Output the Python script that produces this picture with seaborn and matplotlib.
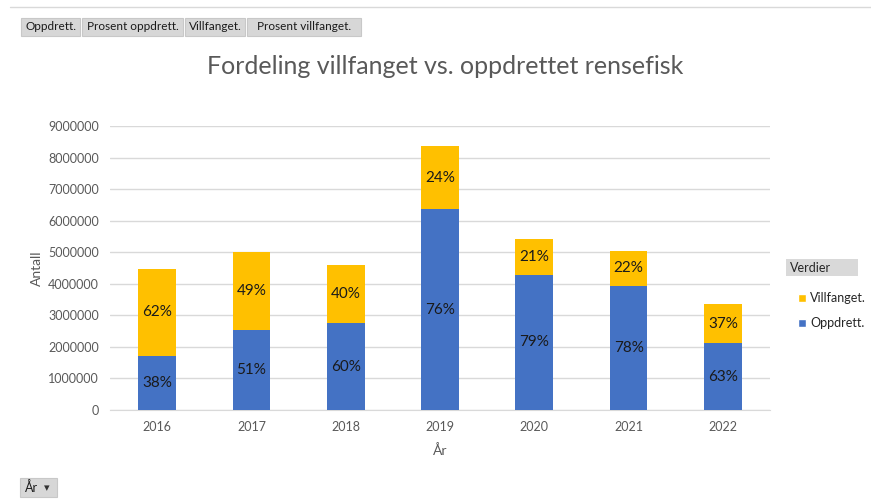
import matplotlib
matplotlib.use("Agg")
import matplotlib.pyplot as plt
from matplotlib.patches import Patch, Rectangle
from matplotlib.lines import Line2D
import seaborn as sns
import pandas as pd

# --- DATA ---
AAR = ['2016', '2017', '2018', '2019', '2020', '2021', '2022']
OPPDRETT = [1720000, 2540000, 2750000, 6360000, 4280000, 3940000, 2110000]
VILLFANGET = [2760000, 2480000, 1840000, 2000000, 1140000, 1110000, 1260000]
PROSENT_OPPDRETT = ['38%', '51%', '60%', '76%', '79%', '78%', '63%']
PROSENT_VILLFANGET = ['62%', '49%', '40%', '24%', '21%', '22%', '37%']

BLA = '#4472C4'
GUL = '#FFC000'
GRA_TEKST = '#595959'
W, H = 871, 504

sns.set_style("white")
plt.rcParams['font.family'] = ['Lato', 'DejaVu Sans']

df = pd.DataFrame({'Aar': AAR, 'Oppdrett': OPPDRETT, 'Villfanget': VILLFANGET})
df['Total'] = df['Oppdrett'] + df['Villfanget']

fig = plt.figure(figsize=(W / 100, H / 100), dpi=100)
ax = fig.add_axes([110 / W, 94 / H, 660 / W, 284 / H])

# stablet: totalen i gult, oppdrett i blått over
sns.barplot(data=df, x='Aar', y='Total', color=GUL, saturation=1, width=0.4, ax=ax,
            linewidth=0, zorder=2)
sns.barplot(data=df, x='Aar', y='Oppdrett', color=BLA, saturation=1, width=0.4, ax=ax,
            linewidth=0, zorder=3)

for i, row in df.iterrows():
    ax.text(i, row['Oppdrett'] / 2, PROSENT_OPPDRETT[i], ha='center', va='center',
            fontsize=11, color='#1a1a1a', zorder=4)
    ax.text(i, row['Oppdrett'] + row['Villfanget'] / 2, PROSENT_VILLFANGET[i],
            ha='center', va='center', fontsize=11, color='#1a1a1a', zorder=4)

ax.set_ylim(0, 9000000)
ax.set_xlim(-0.5, 6.5)
ax.set_yticks(range(0, 9000001, 1000000))
ax.set_yticklabels([str(v) for v in range(0, 9000001, 1000000)])
ax.yaxis.grid(True, color='#d9d9d9', linewidth=1, zorder=0)
ax.set_axisbelow(True)
for s in ['top', 'right', 'left']:
    ax.spines[s].set_visible(False)
ax.spines['bottom'].set_color('#d9d9d9')
ax.tick_params(axis='both', length=0, labelsize=9, colors=GRA_TEKST, pad=8)
ax.set_xlabel('År', fontsize=10, color=GRA_TEKST, labelpad=8)
ax.set_ylabel('Antall', fontsize=10, color=GRA_TEKST, labelpad=4)

fig.text(445 / W, 1 - 67 / H, 'Fordeling villfanget vs. oppdrettet rensefisk',
         ha='center', va='center', fontsize=18, color=GRA_TEKST)

# legende
fig.add_artist(Rectangle((786 / W, 1 - 276 / H), 72 / W, 17 / H, transform=fig.transFigure,
                         facecolor='#d9d9d9', edgecolor='none'))
fig.text(790 / W, 1 - 268 / H, 'Verdier', ha='left', va='center', fontsize=9, color='#262626')
handles = [Patch(facecolor=GUL, label='Villfanget.'), Patch(facecolor=BLA, label='Oppdrett.')]
fig.legend(handles=handles, loc='upper left', bbox_to_anchor=(787 / W, 1 - 281 / H),
           frameon=False, fontsize=9, handlelength=0.65, handleheight=0.65,
           handletextpad=0.3, labelspacing=1.05, labelcolor='#262626')

# knapper (feltliste)
knapper = [('Oppdrett.', 21, 80), ('Prosent oppdrett.', 82, 183),
           ('Villfanget.', 185, 245), ('Prosent villfanget.', 247, 361)]
for tekst, x0, x1 in knapper:
    fig.add_artist(Rectangle((x0 / W, 1 - 36 / H), (x1 - x0) / W, 18 / H, transform=fig.transFigure,
                             facecolor='#d7d7d7', edgecolor='#c8c8c8', linewidth=0.8))
    fig.text((x0 + x1) / 2 / W, 1 - 27 / H, tekst, ha='center', va='center', fontsize=8.5,
             color='#1a1a1a')
fig.add_artist(Rectangle((20 / W, 1 - 497 / H), 37 / W, 19 / H, transform=fig.transFigure,
                         facecolor='#d7d7d7', edgecolor='#c8c8c8', linewidth=0.8))
fig.text(25 / W, 1 - 488 / H, 'År', ha='left', va='center', fontsize=9, color='#1a1a1a')
fig.text(47 / W, 1 - 488 / H, '▾', ha='center', va='center', fontsize=8, color='#333333',
         family=['DejaVu Sans'])

fig.add_artist(Line2D([10 / W, 1], [1 - 7 / H, 1 - 7 / H], color='#d9d9d9', linewidth=1))

fig.savefig('out.png', dpi=100)
